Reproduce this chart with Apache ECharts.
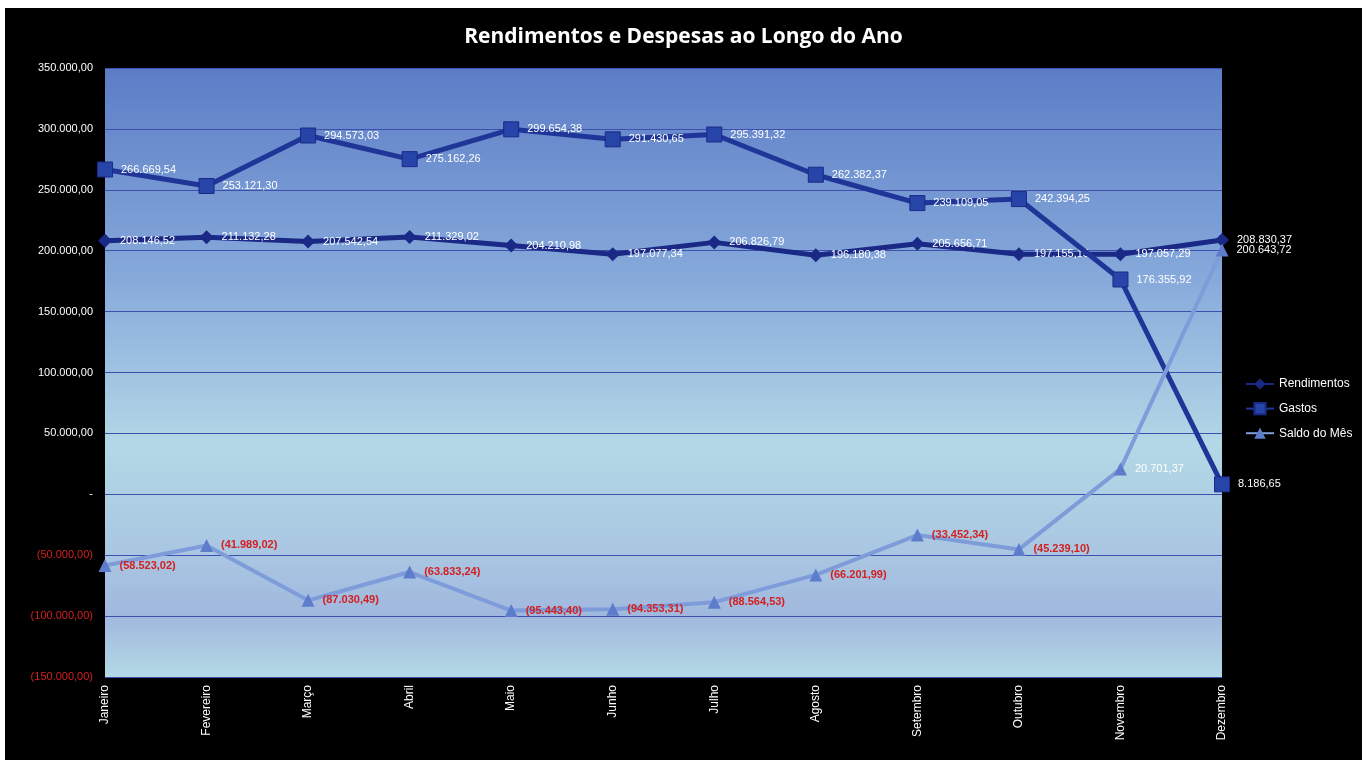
<!DOCTYPE html>
<html>
<head>
<meta charset="utf-8">
<script src="https://cdn.jsdelivr.net/npm/echarts@6/dist/echarts.min.js"></script>
<style>
  html, body { margin: 0; padding: 0; background: #ffffff; }
  #chart { position: absolute; left: 5px; top: 8px; width: 1357px; height: 752px; background: #000000; }
</style>
</head>
<body>
<div id="chart"></div>
<script>
// Monthly income, expenses and balance
const months = ['Janeiro', 'Fevereiro', 'Março', 'Abril', 'Maio', 'Junho',
                'Julho', 'Agosto', 'Setembro', 'Outubro', 'Novembro', 'Dezembro'];

const rendimentos = [208146.52, 211132.28, 207542.54, 211329.02, 204210.98, 197077.34,
                     206826.79, 196180.38, 205656.71, 197155.15, 197057.29, 208830.37];

const gastos = [266669.54, 253121.30, 294573.03, 275162.26, 299654.38, 291430.65,
                295391.32, 262382.37, 239109.05, 242394.25, 176355.92, 8186.65];

const saldo = [-58523.02, -41989.02, -87030.49, -63833.24, -95443.40, -94353.31,
               -88564.53, -66201.99, -33452.34, -45239.10, 20701.37, 200643.72];

const yTicks = { min: -150000, max: 350000, step: 50000 };

// pt-PT style number: 1.234,56 ; negatives in parentheses
function fmt(v) {
  const parts = Math.abs(v).toFixed(2).split('.');
  const intPart = parts[0].replace(/\B(?=(\d{3})+(?!\d))/g, '.');
  const s = intPart + ',' + parts[1];
  return v < 0 ? '(' + s + ')' : s;
}

const font = '"Liberation Sans Narrow", "Liberation Sans", "DejaVu Sans Condensed", sans-serif';

const chart = echarts.init(document.getElementById('chart'));

chart.setOption({
  backgroundColor: '#000000',
  animation: false,
  title: {
    text: 'Rendimentos e Despesas ao Longo do Ano',
    left: 'center',
    top: 14,
    textStyle: { color: '#ffffff', fontSize: 21, fontWeight: 'bold', fontFamily: '"Open Sans", sans-serif' }
  },
  legend: {
    orient: 'vertical',
    left: 1235,
    top: 365,
    itemGap: 12,
    itemWidth: 28,
    itemHeight: 14,
    textStyle: { color: '#ffffff', fontSize: 12, fontFamily: font },
    data: ['Rendimentos', 'Gastos', 'Saldo do Mês']
  },
  grid: {
    left: 100,
    top: 60,
    width: 1117,
    height: 609,
    show: true,
    borderWidth: 0,
    backgroundColor: new echarts.graphic.LinearGradient(0, 0, 0, 1, [
      { offset: 0, color: '#5c7dc6' },
      { offset: 0.35, color: '#87aadb' },
      { offset: 0.62, color: '#b3d8e6' },
      { offset: 0.8, color: '#a9c6e2' },
      { offset: 0.9, color: '#a0b8de' },
      { offset: 1, color: '#b4d9e6' }
    ])
  },
  xAxis: {
    type: 'category',
    data: months,
    boundaryGap: false,
    axisLine: { show: false },
    axisTick: { show: false },
    axisLabel: {
      rotate: 90,
      color: '#ffffff',
      fontSize: 12,
      fontFamily: font,
      margin: 8
    }
  },
  yAxis: {
    type: 'value',
    min: yTicks.min,
    max: yTicks.max,
    interval: yTicks.step,
    axisLine: { show: false },
    axisTick: { show: false },
    splitLine: { lineStyle: { color: '#3f4fae', width: 1.2 } },
    axisLabel: {
      fontSize: 11,
      fontFamily: font,
      margin: 12,
      formatter: v => (v === 0 ? '-' : fmt(v)),
      color: v => (Number(v) < 0 ? '#d42020' : '#ffffff')
    }
  },
  series: [
    {
      name: 'Rendimentos',
      type: 'line',
      data: rendimentos,
      symbol: 'diamond',
      symbolSize: 14,
      lineStyle: { color: '#1a2886', width: 5 },
      itemStyle: { color: '#1a2886' },
      label: {
        show: true,
        position: 'right',
        distance: 8,
        color: '#ffffff',
        fontSize: 11,
        fontFamily: font,
        formatter: p => fmt(p.value)
      },
      z: 3
    },
    {
      name: 'Gastos',
      type: 'line',
      data: gastos,
      symbol: 'rect',
      symbolSize: 15,
      lineStyle: { color: '#1f3597', width: 5 },
      itemStyle: { color: '#2744a8', borderColor: '#1a2a88', borderWidth: 1 },
      label: {
        show: true,
        position: 'right',
        distance: 8,
        color: '#ffffff',
        fontSize: 11,
        fontFamily: font,
        formatter: p => fmt(p.value)
      },
      z: 4
    },
    {
      name: 'Saldo do Mês',
      type: 'line',
      data: saldo.map(v => v >= 0
        ? { value: v, label: { color: '#ffffff', fontWeight: 'normal' } }
        : v),
      symbol: 'triangle',
      symbolSize: 13,
      lineStyle: { color: '#7e9cda', width: 4 },
      itemStyle: { color: '#5d7dcc' },
      label: {
        show: true,
        position: 'right',
        distance: 8,
        fontSize: 11,
        fontWeight: 'bold',
        fontFamily: font,
        formatter: p => fmt(p.value),
        color: '#d42020'
      },
      z: 5
    }
  ]
});
</script>
</body>
</html>
